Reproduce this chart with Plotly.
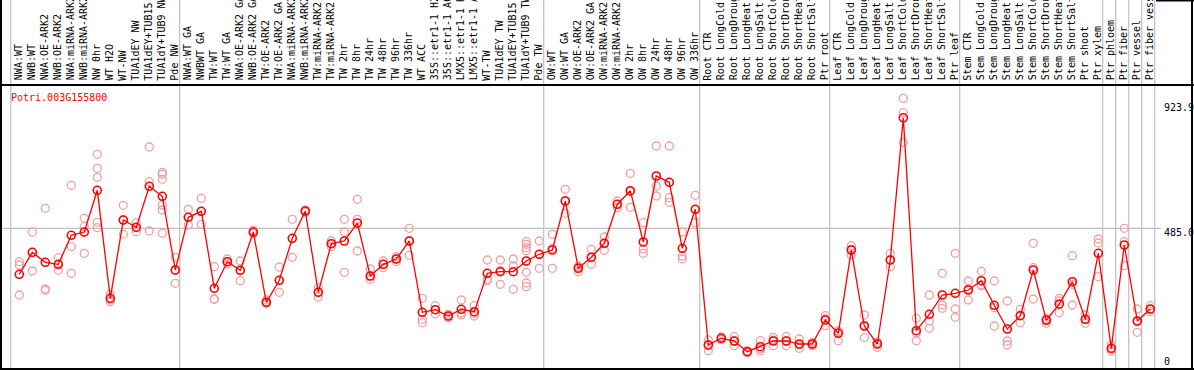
import plotly.graph_objects as go

gene_id = "Potri.003G155800"

categories = [
    "NWA:WT", "NWB:WT", "NWA:OE-ARK2", "NWB:OE-ARK2", "NWA:miRNA-ARK2", "NWB:miRNA-ARK2",
    "NW 0hr", "WT H2O", "WT-NW", "TUA1dEY NW", "TUA1dEY+TUB15 NW", "TUA1dY+TUB9 NW", "Pde NW",
    "NWA:WT GA", "NWBWT GA", "TW:WT", "TW:WT GA", "NWA:OE-ARK2 GA", "NWB:OE-ARK2 GA",
    "TW:OE-ARK2", "TW:OE-ARK2 GA", "NWA:miRNA-ARK2", "NWB:miRNA-ARK2", "TW:miRNA-ARK2",
    "TW:miRNA-ARK2", "TW 2hr", "TW 8hr", "TW 24hr", "TW 48hr", "TW 96hr", "TW 336hr",
    "WT ACC", "35S::etr1-1 H2O", "35S::etr1-1 ACC", "LMX5::etr1-1 H2O", "LMX5::etr1-1 ACC",
    "WT-TW", "TUA1dEY TW", "TUA1dEY+TUB15 TW", "TUA1dY+TUB9 TW", "Pde TW",
    "OW:WT", "OW:WT GA", "OW:OE-ARK2", "OW:OE-ARK2 GA", "OW:miRNA-ARK2", "OW:miRNA-ARK2",
    "OW 2hr", "OW 8hr", "OW 24hr", "OW 48hr", "OW 96hr", "OW 336hr",
    "Root CTR", "Root LongCold", "Root LongDrought", "Root LongHeat", "Root LongSalt",
    "Root ShortCold", "Root ShortDrought", "Root ShortHeat", "Root ShortSalt", "Ptr root",
    "Leaf CTR", "Leaf LongCold", "Leaf LongDrought", "Leaf LongHeat", "Leaf LongSalt",
    "Leaf ShortCold", "Leaf ShortDrought", "Leaf ShortHeat", "Leaf ShortSalt", "Ptr leaf",
    "Stem CTR", "Stem LongCold", "Stem LongDrought", "Stem LongHeat", "Stem LongSalt",
    "Stem ShortCold", "Stem ShortDrought", "Stem ShortHeat", "Stem ShortSalt", "Ptr shoot",
    "Ptr xylem", "Ptr phloem", "Ptr fiber", "Ptr vessel", "Ptr fiber vessel",
]

mean_values = [
    329.8, 404.1, 370.3, 363.6, 461.5, 472.6, 613.4, 248.8, 513.2, 488.5, 626.9, 593.2, 344.4,
    522.3, 542.5, 282.6, 372.4, 343.3, 472.6, 235.3, 309.6, 451.4, 543.5, 269.1, 433.1,
    442.3, 503.0, 324.1, 363.6, 381.5, 442.3, 201.5, 210.3, 189.1, 211.7, 203.6,
    333.2, 338.6, 338.6, 374.7, 397.4,
    411.9, 577.3, 350.1, 387.2, 434.5, 566.2, 612.1, 438.9, 661.7, 640.4, 417.6, 549.3,
    91.2, 113.8, 104.7, 68.5, 85.4, 104.7, 104.7, 94.5, 94.5, 175.6,
    130.7, 411.9, 155.3, 94.5, 378.1, 858.3, 139.4, 194.8, 260.0, 265.7,
    276.8, 308.2, 225.2, 145.2, 190.1, 344.4, 174.5, 229.6, 304.9, 177.9,
    400.7, 80.0, 428.8, 172.2, 212.7,
]

replicate_values = [
    [372.4, 361.2, 260.0], [472.6, 404.1, 341.0], [552.6, 280.2, 275.8], [385.9, 343.3, 363.6],
    [630.3, 423.0, 333.2], [518.9, 490.5, 400.7], [735.0, 687.7, 657.3, 505.4, 487.2],
    [262.3, 243.1, 237.3], [562.8, 464.9, 513.2], [504.0, 473.7, 488.5], [759.6, 642.5, 476.0],
    [674.2, 667.4, 650.6, 563.8, 546.9, 468.3], [387.2, 299.5, 344.4],
    [549.3, 496.3, 522.3], [586.4, 498.6, 542.5], [355.5, 245.4, 246.4], [381.5, 364.6, 372.4],
    [374.7, 308.2, 343.3], [478.0, 472.6, 467.0], [243.1, 231.9, 235.3], [354.5, 269.1, 309.6],
    [515.5, 387.2, 451.4], [546.9, 540.2, 543.5], [284.6, 253.2, 269.1], [442.3, 423.0, 433.1],
    [515.5, 472.6, 336.6], [583.0, 515.5, 408.5], [347.7, 313.0, 324.1], [374.7, 352.1, 363.6],
    [389.2, 372.4, 381.5], [485.1, 394.0, 442.3], [248.8, 177.9, 166.4], [223.8, 196.8, 210.3],
    [194.8, 183.3, 189.1], [243.1, 192.4, 199.2], [223.8, 189.1, 197.8],
    [378.1, 313.0, 308.2], [378.1, 296.1, 342.0], [381.5, 357.9, 279.2],
    [439.9, 431.1, 419.6, 409.5, 336.6, 300.5, 288.0], [442.3, 350.1, 397.4],
    [464.9, 417.6, 350.1], [616.8, 535.8, 577.3], [357.9, 338.6, 353.8], [414.2, 363.6, 387.2],
    [455.8, 410.9, 434.5], [577.3, 554.7, 566.2], [670.8, 556.0, 609.4], [504.0, 415.2, 400.7],
    [763.0, 627.9, 594.2], [763.0, 588.4, 572.9], [472.6, 391.6, 381.5], [596.5, 504.0, 549.3],
    [108.0, 71.9, 91.2], [118.2, 109.0, 113.8], [119.2, 88.8, 104.7], [71.9, 65.2, 68.5],
    [105.7, 71.9, 78.7], [117.1, 88.8, 108.0], [119.2, 88.8, 104.7], [111.4, 80.0, 92.2],
    [100.3, 88.8, 94.5], [190.1, 156.3, 179.9],
    [138.4, 105.7, 136.1], [426.4, 395.0, 414.2], [192.4, 115.8, 157.7], [100.3, 83.4, 100.3],
    [400.7, 355.5, 378.1], [923.9, 875.4, 775.5], [181.3, 105.7, 131.7], [260.0, 173.2, 147.5],
    [333.2, 226.2, 215.1], [400.7, 212.7, 184.7],
    [307.2, 243.1, 280.2], [340.0, 293.7, 291.3], [307.2, 217.1, 155.3], [239.7, 104.7, 91.2],
    [211.7, 166.4, 192.4], [434.5, 352.1, 246.4], [181.3, 164.4, 177.9], [248.8, 200.2, 239.7],
    [392.6, 296.1, 226.2], [192.4, 164.4, 176.6],
    [449.0, 435.5, 321.7], [91.2, 70.9, 77.6], [485.1, 439.9, 358.9], [212.7, 134.0, 170.5],
    [223.8, 203.6, 211.0],
]

group_ends = [0, 13, 41, 53, 63, 73, 84, 85, 86, 87, 88]
y_tick_values = [923.9, 485.0, 0]
y_tick_labels = ["923.9", "485.0", "0"]

W, H = 1194, 370
PL, PR, PT, PB = 1, 1192, 85, 369   # plot area in pixels
COL0, COLW = 6.3, 13.0               # pixel x of column index 0 and column width
Y0PX, YSCALE = 372.0, 0.2962         # pixel y of value 0 and px per unit

x_range = [(PL - COL0) / COLW, (PR - COL0) / COLW]
y_range = [(Y0PX - PB) / YSCALE, (Y0PX - PT) / YSCALE]

def py(p):
    return (PB - p) / (PB - PT)

def px(p):
    return (p - PL) / (PR - PL)

xs = list(range(1, len(categories) + 1))

fig = go.Figure()

rx, ry = [], []
for i, reps in zip(xs, replicate_values):
    for v in reps:
        rx.append(i)
        ry.append(v)

fig.add_trace(go.Scatter(
    x=rx, y=ry, mode="markers",
    marker=dict(symbol="circle-open", size=8, color="#f0a0a0", line=dict(width=1.3)),
    showlegend=False, hoverinfo="skip",
))
fig.add_trace(go.Scatter(
    x=xs, y=mean_values, mode="lines+markers",
    line=dict(color="#ff0000", width=1.3),
    marker=dict(symbol="circle-open", size=8, color="#ff0000", line=dict(width=1.6)),
    showlegend=False, hovertext=categories,
))

shapes = []
for k in group_ends:
    xv = k + (10.7 - COL0) / COLW
    shapes.append(dict(type="line", xref="x", yref="paper", x0=xv, x1=xv,
                       y0=py(370), y1=py(0), line=dict(color="#c0c0c0", width=1.2), layer="below"))
shapes.append(dict(type="line", xref="paper", yref="y", x0=px(PL), x1=px(1161),
                   y0=y_tick_values[1], y1=y_tick_values[1],
                   line=dict(color="#c0c0c0", width=1.2), layer="below"))
black = dict(color="#000000", width=2)
shapes += [
    dict(type="line", xref="paper", yref="paper", x0=px(1), x1=px(1), y0=py(370), y1=py(0), line=black),
    dict(type="line", xref="paper", yref="paper", x0=px(1192), x1=px(1192), y0=py(370), y1=py(0), line=black),
    dict(type="line", xref="paper", yref="paper", x0=px(0), x1=px(1194), y0=py(85), y1=py(85), line=black),
    dict(type="line", xref="paper", yref="paper", x0=px(0), x1=px(1194), y0=py(369), y1=py(369), line=black),
    dict(type="line", xref="paper", yref="paper", x0=px(1156), x1=px(1194), y0=py(0.5), y1=py(0.5), line=black),
]

annotations = []
mono = "DejaVu Sans Mono, monospace"
for i, lab in zip(xs, categories):
    annotations.append(dict(
        x=i - 0.05, xref="x", y=py(82.5), yref="paper", text=lab, textangle=-90,
        showarrow=False, xanchor="center", yanchor="bottom",
        font=dict(family=mono, size=10, color="#000000"),
    ))
annotations.append(dict(
    x=px(9), xref="paper", y=py(97.5), yref="paper", text=gene_id, showarrow=False,
    xanchor="left", yanchor="middle", font=dict(family=mono, size=10, color="#ff0000"),
))
tick_px = [107.5, 232.0, 361.7]
for lab, p in zip(y_tick_labels, tick_px):
    annotations.append(dict(
        x=px(1162), xref="paper", y=py(p), yref="paper", text=lab, showarrow=False,
        xanchor="left", yanchor="middle", font=dict(family=mono, size=10, color="#000000"),
    ))

fig.update_layout(
    width=W, height=H,
    margin=dict(l=PL, r=W - PR, t=PT, b=H - PB, pad=0),
    paper_bgcolor="white", plot_bgcolor="white",
    xaxis=dict(range=x_range, showgrid=False, zeroline=False, showticklabels=False, visible=False),
    yaxis=dict(range=y_range, showgrid=False, zeroline=False, showticklabels=False, visible=False),
    shapes=shapes, annotations=annotations, showlegend=False,
)

fig.write_html(
    "out.html",
    config={"displayModeBar": False},
    post_script="document.body.style.margin='0';document.body.style.padding='0';document.body.style.overflow='hidden';",
)
